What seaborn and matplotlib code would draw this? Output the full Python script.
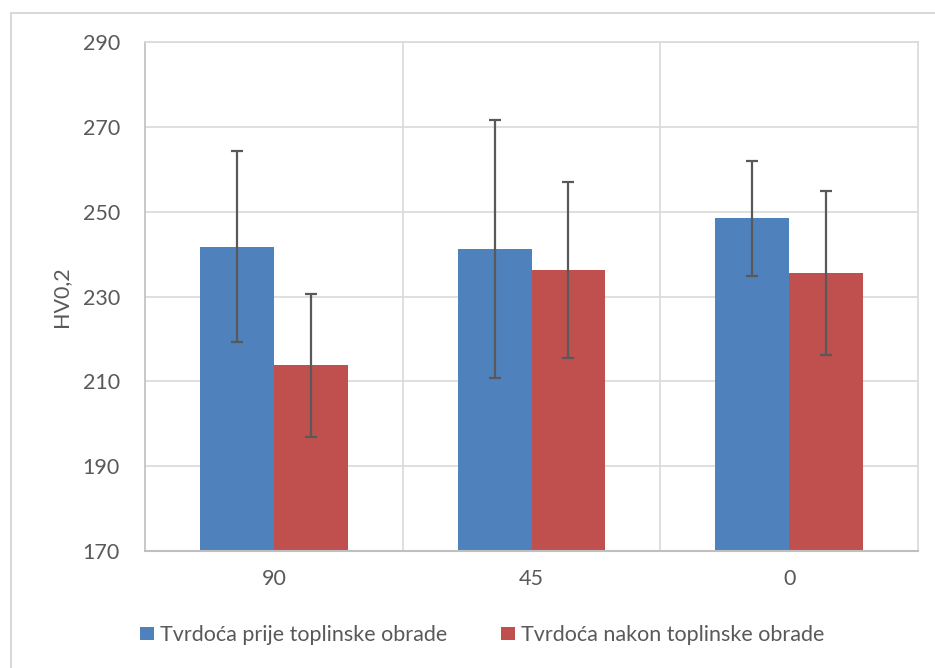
import matplotlib
matplotlib.use("Agg")
import matplotlib.pyplot as plt
from matplotlib.lines import Line2D
import seaborn as sns
import pandas as pd

categories = ["90", "45", "0"]
series_names = ["Tvrdoća prije toplinske obrade", "Tvrdoća nakon toplinske obrade"]
before_vals = [241.7, 241.25, 248.45]
before_err = [22.5, 30.35, 13.6]
after_vals = [213.8, 236.2, 235.45]
after_err = [16.9, 20.8, 19.35]
y_ticks = [170, 190, 210, 230, 250, 270, 290]

sns.set_theme(style="white")
plt.rcParams['font.family'] = ['Lato', 'DejaVu Sans']

df = pd.DataFrame({
    "cat": categories * 2,
    "series": [series_names[0]] * 3 + [series_names[1]] * 3,
    "val": before_vals + after_vals,
})

colors = ["#4F81BD", "#C0504D"]
FS = 15.5
W, H = 935, 668
fig = plt.figure(figsize=(9.35, 6.68), dpi=100)
ax = fig.add_axes([145 / W, (H - 551) / H, (918 - 145) / W, (551 - 42) / H])

sns.barplot(data=df, x="cat", y="val", hue="series", order=categories,
            hue_order=series_names, palette=colors, width=0.574,
            errorbar=None, ax=ax, saturation=1, linewidth=0)

errs = [before_err, after_err]
vals = [before_vals, after_vals]
for cont, e, v in zip(ax.containers, errs, vals):
    xs = [b.get_x() + b.get_width() / 2 for b in cont]
    ax.errorbar(xs, v, yerr=e, fmt='none', ecolor='#595959', elinewidth=1.6,
                capsize=4.5, capthick=1.6, zorder=5)

ax.set_ylim(170, 290)
ax.set_yticks(y_ticks)
ax.set_xlim(-0.5, 2.5)
ax.grid(axis='y', color='#D9D9D9', linewidth=1.2)
ax.set_axisbelow(True)
for xv in [0.5, 1.5]:
    ax.axvline(xv, color='#D9D9D9', linewidth=1.2, zorder=0)

for s in ['top', 'right']:
    ax.spines[s].set_color('#D9D9D9')
    ax.spines[s].set_linewidth(1.2)
ax.spines['left'].set_color('#BFBFBF')
ax.spines['left'].set_linewidth(1.2)
ax.spines['bottom'].set_color('#BFBFBF')
ax.spines['bottom'].set_linewidth(1.5)

ax.tick_params(axis='y', length=0, pad=18, labelsize=FS, labelcolor='#595959')
ax.tick_params(axis='x', length=0, pad=13, labelsize=FS, labelcolor='#595959')
ax.set_xlabel("")
ax.set_ylabel("HV0,2", fontsize=FS, color='#595959')
ax.yaxis.set_label_coords(-0.095, 0.5)

leg = ax.get_legend()
if leg is not None:
    leg.remove()
handles, labels = ax.get_legend_handles_labels()
fig.legend(handles[:2], labels[:2], loc='center', bbox_to_anchor=(0.516, 1 - 635 / H),
           ncol=2, frameon=False, fontsize=FS, labelcolor='#595959',
           handlelength=0.65, handleheight=0.6, handletextpad=0.28, columnspacing=2.5)

fig.add_artist(Line2D([11 / W, 1], [1 - 13 / H, 1 - 13 / H], transform=fig.transFigure,
                      color='#D9D9D9', linewidth=1.5))
fig.add_artist(Line2D([11 / W, 11 / W], [0, 1 - 13 / H], transform=fig.transFigure,
                      color='#D9D9D9', linewidth=1.5))

fig.savefig("out.png", dpi=100)
